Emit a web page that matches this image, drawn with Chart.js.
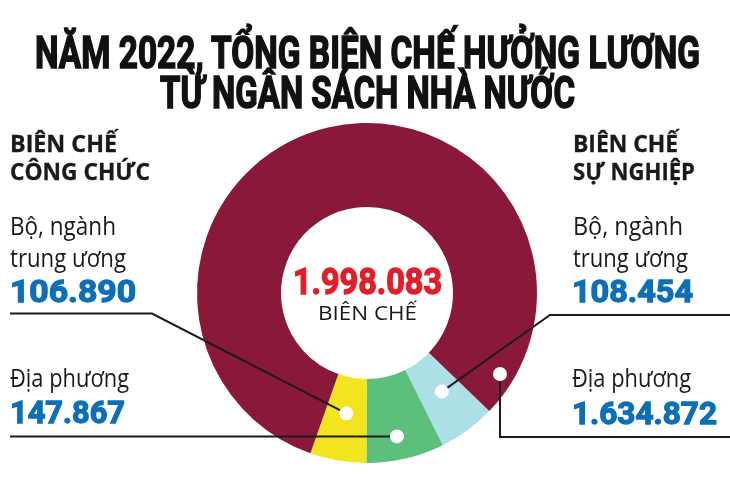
<!DOCTYPE html>
<html lang="vi">
<head>
<meta charset="utf-8">
<script src="https://cdn.jsdelivr.net/npm/chart.js@4.4.1/dist/chart.umd.min.js"></script>
<style>
  html, body { margin: 0; padding: 0; background: #fff; }
  #wrap { position: relative; width: 730px; height: 487px; overflow: hidden; }
  #donut { position: absolute; left: 0; top: 0; }
  .t { position: absolute; white-space: nowrap; line-height: 1; transform-origin: 0 0; display: inline-block; }
  .title { font-family: Roboto, sans-serif; font-weight: 700; font-size: 45px; color: #111; -webkit-text-stroke: 1.6px #111; }
  .head { font-family: "Open Sans", sans-serif; font-weight: 700; font-size: 23px; color: #1a1a1a; -webkit-text-stroke: 0.3px #1a1a1a; }
  .lab { font-family: "Open Sans", sans-serif; font-weight: 400; font-size: 26px; color: #1a1a1a; }
  .num { font-family: Roboto, sans-serif; font-weight: 700; font-size: 32px; color: #0d6fb7; -webkit-text-stroke: 1.3px #0d6fb7; }
  .total { font-family: Roboto, sans-serif; font-weight: 700; font-size: 36px; color: #e31e29; -webkit-text-stroke: 1.3px #e31e29; }
  .unit { font-family: "Open Sans", sans-serif; font-weight: 400; font-size: 20px; color: #1a1a1a; }
</style>
</head>
<body>
<div id="wrap">
  <canvas id="donut" width="730" height="487"></canvas>

  <div class="t title" style="left:35px;top:30px" data-w="665">NĂM 2022, TỔNG BIÊN CHẾ HƯỞNG LƯƠNG</div>
  <div class="t title" style="left:160px;top:70px" data-w="415">TỪ NGÂN SÁCH NHÀ NƯỚC</div>

  <div class="t head" style="left:10px;top:132px" data-w="107">BIÊN CHẾ</div>
  <div class="t head" style="left:10px;top:160px" data-w="140">CÔNG CHỨC</div>
  <div class="t lab" style="left:10px;top:212px" data-w="106">Bộ, ngành</div>
  <div class="t lab" style="left:10px;top:244px" data-w="116">trung ương</div>
  <div class="t num" id="n0" style="left:10px;top:275px" data-w="126"></div>
  <div class="t lab" style="left:10px;top:364px" data-w="119">Địa phương</div>
  <div class="t num" id="n1" style="left:10px;top:396px" data-w="115"></div>

  <div class="t head" style="left:573px;top:132px" data-w="105">BIÊN CHẾ</div>
  <div class="t head" style="left:573px;top:160px" data-w="122">SỰ NGHIỆP</div>
  <div class="t lab" style="left:573px;top:212px" data-w="110">Bộ, ngành</div>
  <div class="t lab" style="left:573px;top:244px" data-w="115">trung ương</div>
  <div class="t num" id="n2" style="left:572px;top:275px" data-w="121"></div>
  <div class="t lab" style="left:572px;top:364px" data-w="119">Địa phương</div>
  <div class="t num" id="n3" style="left:572px;top:397px" data-w="145"></div>

  <div class="t total" id="tot" style="left:293px;top:264px" data-w="149"></div>
  <div class="t unit" style="left:318px;top:303px" data-w="99">BIÊN CHẾ</div>
</div>

<script>
// clockwise from the start angle: light blue, green, yellow, maroon
const categories = [
  'Biên chế sự nghiệp - Bộ, ngành trung ương',
  'Biên chế công chức - Địa phương',
  'Biên chế công chức - Bộ, ngành trung ương',
  'Biên chế sự nghiệp - Địa phương'
];
const values = [108454, 147867, 106890, 1634872];
const colors = ['#addfe6', '#5dbf7c', '#f2e41e', '#8a1838'];

// labels on the page, tied to the data
const numLabels = { n0: 2, n1: 1, n2: 0, n3: 3 };

function viNum(v) {
  return String(v).replace(/\B(?=(\d{3})+(?!\d))/g, '.');
}

for (const id in numLabels) {
  document.getElementById(id).textContent = viNum(values[numLabels[id]]);
}
document.getElementById('tot').textContent = viNum(values.reduce((a, b) => a + b, 0));

// leader line for each slice: where the dot sits in the arc, and the path out
const leaders = [
  { frac: 0.45, depth: 0.45, path: [[550, 315], [730, 315]] },
  { frac: 0.55, depth: 0.72, path: 'h-left' },
  { frac: 0.5, depth: 0.43, path: [[152, 313.5], [10, 313.5]] },
  { frac: 0.957, depth: 0.83, path: 'v-down' }
];

const leaderPlugin = {
  id: 'leaders',
  afterDatasetsDraw(chart) {
    const ctx = chart.ctx;
    const arcs = chart.getDatasetMeta(0).data;
    const dots = arcs.map((arc, i) => {
      const l = leaders[i];
      const a = arc.startAngle + l.frac * (arc.endAngle - arc.startAngle);
      const r = arc.innerRadius + l.depth * (arc.outerRadius - arc.innerRadius);
      return [arc.x + Math.cos(a) * r, arc.y + Math.sin(a) * r];
    });
    ctx.save();
    ctx.strokeStyle = '#1a1a1a';
    ctx.lineWidth = 2;
    dots.forEach((d, i) => {
      let pts = leaders[i].path;
      if (pts === 'h-left') pts = [[10, d[1]]];
      if (pts === 'v-down') pts = [[d[0], 437], [730, 437]];
      ctx.beginPath();
      ctx.moveTo(d[0], d[1]);
      pts.forEach(p => ctx.lineTo(p[0], p[1]));
      ctx.stroke();
    });
    ctx.fillStyle = '#fff';
    dots.forEach(d => {
      ctx.beginPath();
      ctx.arc(d[0], d[1], 7, 0, Math.PI * 2);
      ctx.fill();
    });
    ctx.restore();
  }
};

new Chart(document.getElementById('donut'), {
  type: 'doughnut',
  data: {
    labels: categories,
    datasets: [{
      data: values,
      backgroundColor: colors,
      borderWidth: 0,
      hoverOffset: 0
    }]
  },
  options: {
    responsive: false,
    animation: false,
    rotation: 134,
    cutout: '50.6%',
    layout: { padding: { left: 197, right: 193, top: 123, bottom: 24 } },
    plugins: { legend: { display: false }, tooltip: { enabled: false } },
    events: []
  },
  plugins: [leaderPlugin]
});

function fitTexts() {
  document.querySelectorAll('.t[data-w]').forEach(el => {
    el.style.transform = 'none';
    const w = el.getBoundingClientRect().width;
    const target = parseFloat(el.dataset.w);
    if (w > 0) el.style.transform = 'scaleX(' + (target / w) + ')';
  });
}
fitTexts();
if (document.fonts && document.fonts.ready) document.fonts.ready.then(fitTexts);
</script>
</body>
</html>
